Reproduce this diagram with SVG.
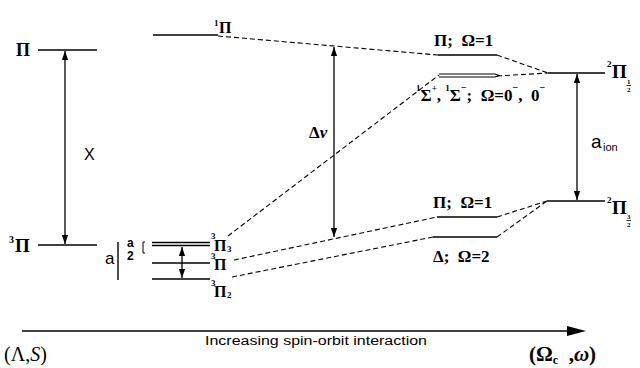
<svg xmlns="http://www.w3.org/2000/svg" width="640" height="368" viewBox="0 0 640 368">
<defs>
<style>
.lvl{stroke:#000;stroke-width:1.6;fill:none}
.dash{stroke:#000;stroke-width:1.1;fill:none;stroke-dasharray:5,3}
.arr{stroke:#000;stroke-width:1.3;fill:none}
.g{font-family:"Liberation Serif",serif;font-weight:bold;fill:#000}
.s{font-family:"Liberation Sans",sans-serif;fill:#000}
</style>
<marker id="ah" viewBox="0 0 10 10" refX="10" refY="5" markerWidth="9" markerHeight="9" markerUnits="userSpaceOnUse" orient="auto-start-reverse">
<path d="M0,1.5 L10,5 L0,8.5 Z" fill="#000"/>
</marker>
</defs>
<rect width="640" height="368" fill="#fff"/>

<g id="connectors">
<path class="dash" d="M218,36 L438,55"/>
<path class="dash" d="M497,55 L548,73"/>
<path class="dash" d="M497,76 L548,73"/>
<path class="dash" d="M228,236 L439,75"/>
<path class="dash" d="M234,260 L437,217"/>
<path class="dash" d="M232,277 L433,237"/>
<path class="dash" d="M497,217 L547,201"/>
<path class="dash" d="M497,237 L547,201"/>
<line class="arr" x1="65" y1="51" x2="65" y2="244" marker-start="url(#ah)" marker-end="url(#ah)"/>
<line class="arr" x1="334" y1="47" x2="334" y2="237" marker-start="url(#ah)" marker-end="url(#ah)"/>
<line class="arr" x1="577" y1="74" x2="577" y2="200" marker-start="url(#ah)" marker-end="url(#ah)"/>
<line class="arr" x1="182" y1="247" x2="182" y2="278" marker-start="url(#ah)" marker-end="url(#ah)"/>
</g>

<g id="pi-left">
<line class="lvl" x1="38" y1="50" x2="97" y2="50"/>
<text class="g" x="16" y="56" font-size="18">Π</text>
</g>
<g id="x-label">
<text class="s" x="84" y="160" font-size="16">X</text>
</g>
<g id="triplet-pi-left">
<line class="lvl" x1="38" y1="245" x2="97" y2="245"/>
<text class="g" x="9" y="243" font-size="10">3</text>
<text class="g" x="15" y="252" font-size="19">Π</text>
</g>

<g id="singlet-pi">
<line class="lvl" x1="153" y1="35" x2="218" y2="35"/>
<text class="g" x="214" y="26" font-size="9">1</text>
<text class="g" x="219" y="33" font-size="16">Π</text>
</g>

<g id="spin-orbit-split">
<text class="s" x="105" y="264" font-size="17">a</text>
<line x1="118" y1="242" x2="118" y2="280" stroke="#000" stroke-width="1.4"/>
<text class="s" x="127" y="247" font-size="12" font-weight="bold">a</text>
<text class="s" x="127" y="260" font-size="12" font-weight="bold">2</text>
<path d="M145,242 L143,242 L143,253 L145,253" stroke="#000" stroke-width="1" fill="none"/>
</g>

<g id="pi3">
<line class="lvl" x1="152" y1="242.5" x2="210" y2="242.5" stroke-width="1.2"/>
<line class="lvl" x1="152" y1="245.5" x2="210" y2="245.5" stroke-width="1.2"/>
<text class="g" x="211" y="239" font-size="9">3</text>
<text class="g" x="214" y="251" font-size="16">Π</text>
<text class="g" x="227" y="252" font-size="9">3</text>
</g>
<g id="pi1">
<line class="lvl" x1="152" y1="263" x2="210" y2="263"/>
<text class="g" x="211" y="259" font-size="9">3</text>
<text class="g" x="214" y="270" font-size="16">Π</text>
</g>
<g id="pi2">
<line class="lvl" x1="152" y1="279" x2="210" y2="279"/>
<text class="g" x="211" y="286" font-size="9">3</text>
<text class="g" x="214" y="297" font-size="16">Π</text>
<text class="g" x="227" y="298" font-size="9">2</text>
</g>

<g id="delta-nu">
<text class="g" x="309" y="138" font-size="17">Δ<tspan font-style="italic">ν</tspan></text>
</g>

<g id="pi-omega1-upper">
<line class="lvl" x1="438" y1="55" x2="497" y2="55"/>
<text class="g" x="434" y="46" font-size="17" xml:space="preserve">Π;  Ω=1</text>
</g>
<g id="sigma-omega0">
<path d="M439,74 L495,74 L499,75.5 L495,77 L439,77" stroke="#000" stroke-width="1.2" fill="none"/>
<text class="g" x="416" y="101" font-size="17" xml:space="preserve"><tspan font-size="9" dy="-10">1</tspan><tspan dy="10">Σ</tspan><tspan font-size="9" dy="-10">+</tspan><tspan dy="10">, </tspan><tspan font-size="9" dy="-10">1</tspan><tspan dy="10">Σ</tspan><tspan font-size="10" dy="-10">−</tspan><tspan dy="10">;  Ω=0</tspan><tspan font-size="10" dy="-10">−</tspan><tspan dy="10">,  0</tspan><tspan font-size="10" dy="-10">−</tspan></text>
</g>
<g id="pi-omega1-lower">
<line class="lvl" x1="437" y1="217" x2="497" y2="217"/>
<text class="g" x="433" y="208" font-size="17" xml:space="preserve">Π;  Ω=1</text>
</g>
<g id="delta-omega2">
<line class="lvl" x1="433" y1="237" x2="497" y2="237"/>
<text class="g" x="433" y="262" font-size="17" xml:space="preserve">Δ;  Ω=2</text>
</g>

<g id="ion-half">
<line class="lvl" x1="548" y1="73" x2="605" y2="73"/>
<text class="g" x="607" y="67" font-size="9">2</text>
<text class="g" x="612" y="78" font-size="19">Π</text>
<text class="g" x="627" y="84" font-size="7">1</text>
<line x1="626.5" y1="85.5" x2="631" y2="85.5" stroke="#000" stroke-width="0.8"/>
<text class="g" x="627" y="92" font-size="7">2</text>
</g>
<g id="ion-label">
<text class="s" x="591" y="148" font-size="19">a</text>
<text class="s" x="603" y="151" font-size="11">ion</text>
</g>
<g id="ion-three-half">
<line class="lvl" x1="547" y1="201" x2="605" y2="201"/>
<text class="g" x="607" y="203" font-size="9">2</text>
<text class="g" x="612" y="214" font-size="19">Π</text>
<text class="g" x="627" y="219" font-size="7">3</text>
<line x1="626.5" y1="220.5" x2="631" y2="220.5" stroke="#000" stroke-width="0.8"/>
<text class="g" x="627" y="227" font-size="7">2</text>
</g>

<g id="axis">
<line x1="22" y1="331" x2="570" y2="331" stroke="#000" stroke-width="1.3"/>
<path d="M567,326 L586,331 L567,336 Z" fill="#000"/>
<text x="4" y="361" font-family="Liberation Serif,serif" font-size="20">(Λ,<tspan font-style="italic">S</tspan>)</text>
<text class="s" x="205" y="345" font-size="12.5" textLength="222" lengthAdjust="spacingAndGlyphs">Increasing spin-orbit interaction</text>
<text x="529" y="361" font-family="Liberation Serif,serif" font-size="21" font-weight="bold" xml:space="preserve">(Ω<tspan font-size="12" dy="3">c</tspan><tspan dy="-3">  ,</tspan><tspan font-style="italic">ω</tspan>)</text>
</g>
</svg>
